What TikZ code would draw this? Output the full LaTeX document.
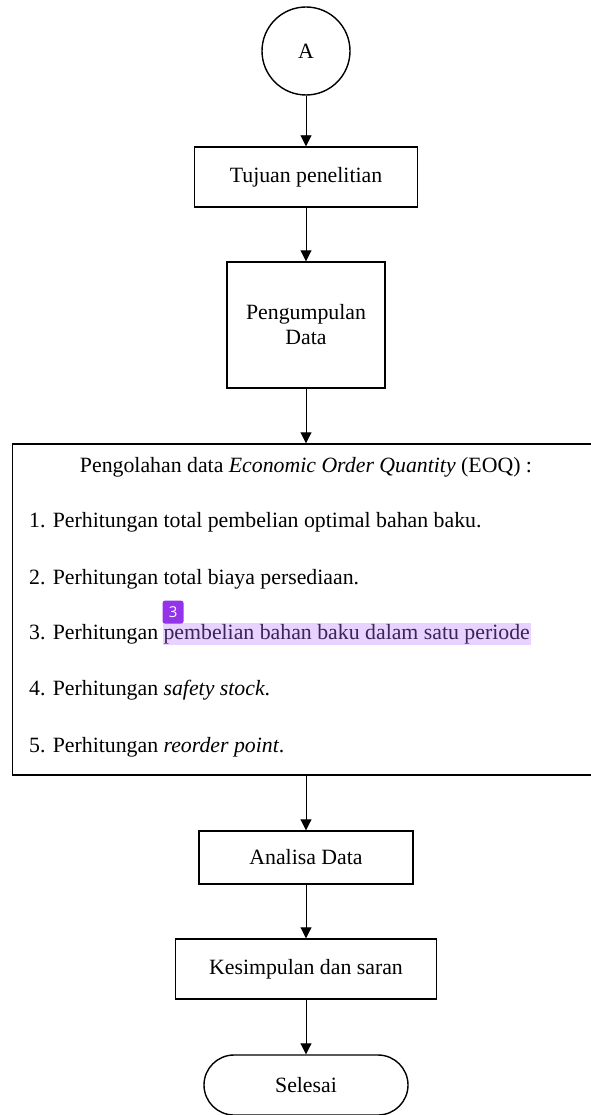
\documentclass[tikz,border=0pt]{standalone}
\usepackage{fontspec}
\setmainfont{Liberation Serif}
\newfontfamily\badgefont{Open Sans}
\usetikzlibrary{arrows.meta,shapes.misc}
\definecolor{hlfill}{RGB}{232,210,255}
\definecolor{hltext}{RGB}{58,36,88}
\definecolor{badgecol}{RGB}{147,51,234}
\tikzset{
    txt/.style={font=\fontsize{21.8}{25}\selectfont},
    box/.style={txt, draw, line width=1.4pt, inner sep=0pt, align=center},
    item/.style={txt, anchor=base west, inner sep=0pt},
    flow/.style={line width=0.9pt, -{Triangle[length=11pt,width=11pt]}},
}
\begin{document}
\begin{tikzpicture}[x=1pt,y=-1pt]
    \useasboundingbox (0,0) rectangle (590,1115);
    \node[box, circle, minimum size=88pt] (start) at (306,51) {A};
    \node[box, minimum width=223pt, minimum height=60pt] (tujuan) at (306,177) {Tujuan penelitian};
    \node[box, minimum width=158pt, minimum height=126pt] (kumpul) at (306,325) {Pengumpulan\\Data};
    \node[box, minimum width=587pt, minimum height=331pt] (olah) at (306,609.5) {};
    \node[txt, inner sep=0pt] (judul) at (306,467) {Pengolahan data \textit{Economic Order Quantity} (EOQ) :};
    \node[item] (i1) at (29,527) {1. Perhitungan total pembelian optimal bahan baku.};
    \node[item] (i2) at (29,584) {2. Perhitungan total biaya persediaan.};
    \node[item] (i3) at (29,639) {3. Perhitungan};
    \node[item, fill=hlfill, text=hltext, inner xsep=1pt, text height=16pt, text depth=6pt,
        anchor=base west] (i3b) at ([xshift=4pt]i3.base east) {pembelian bahan baku dalam satu periode};
    \node[fill=badgecol, text=white, rounded corners=2.5pt, minimum width=21pt, minimum height=23pt,
        inner sep=0pt, font=\badgefont\fontsize{15}{17}\selectfont, anchor=south west] (badge) at ([yshift=-1pt]i3b.north west) {3};
    \node[item] (i4) at (29,695) {4. Perhitungan \textit{safety stock}.};
    \node[item] (i5) at (29,752) {5. Perhitungan \textit{reorder point}.};
    \node[box, minimum width=214pt, minimum height=53pt] (analisa) at (306,857.5) {Analisa Data};
    \node[box, minimum width=261pt, minimum height=60pt] (simpul) at (306,969) {Kesimpulan dan saran};
    \node[box, rounded rectangle, minimum width=204pt, minimum height=60pt] (selesai) at (306,1085) {Selesai};
    \draw[flow] (start) -- (tujuan);
    \draw[flow] (tujuan) -- (kumpul);
    \draw[flow] (kumpul) -- (olah);
    \draw[flow] (olah) -- (analisa);
    \draw[flow] (analisa) -- (simpul);
    \draw[flow] (simpul) -- (selesai);
\end{tikzpicture}
\end{document}
